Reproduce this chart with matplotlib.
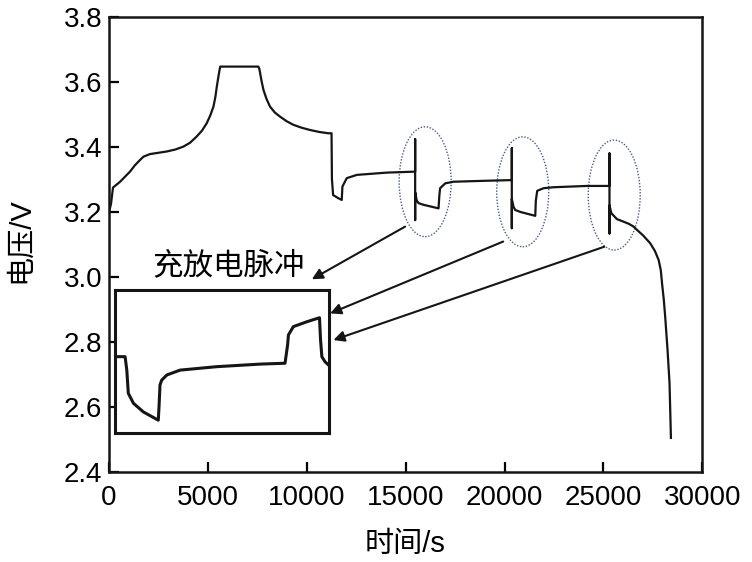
import numpy as np
import matplotlib.pyplot as plt
from matplotlib.patches import Ellipse

plt.rcParams['font.family'] = ['Liberation Sans', 'Noto Sans CJK SC', 'DejaVu Sans']

# main discharge/charge curve
t = [0, 100, 200, 560, 800, 1060, 1300, 1570, 1740, 2070, 2500, 2920, 3350, 3760,
     4100, 4430, 4700, 4940, 5120, 5280, 5380, 5450, 5540, 5620,
     7550, 7600, 7640, 7720, 7810, 7960, 8140, 8380, 8650, 8980, 9320, 9740, 10170,
     10630, 11090, 11250,
     11270, 11330, 11600, 11766, 11800, 12020, 12530, 14050, 15478,
     15478, 15478, 15478, 15560, 15650, 15900, 16660, 16700, 16740, 17000, 17420, 19100, 20365,
     20365, 20365, 20365, 20450, 20540, 20800, 21550, 21580, 21650, 21970, 22470, 24160, 25303,
     25303, 25303, 25303, 25400, 25680, 26020, 26300, 26520, 26690, 27000, 27360, 27600,
     27790, 27900, 27960, 28050, 28120, 28240, 28340, 28410]
v = [3.20, 3.225, 3.275, 3.293, 3.308, 3.324, 3.343, 3.36, 3.370, 3.378, 3.382, 3.386, 3.392, 3.401,
     3.413, 3.432, 3.450, 3.473, 3.497, 3.524, 3.555, 3.586, 3.62, 3.647,
     3.647, 3.640, 3.627, 3.600, 3.575, 3.548, 3.524, 3.506, 3.493, 3.479, 3.468, 3.459, 3.452,
     3.446, 3.442, 3.442,
     3.30, 3.252, 3.242, 3.237, 3.278, 3.304, 3.314, 3.321, 3.324,
     3.424, 3.175, 3.26, 3.235, 3.227, 3.222, 3.211, 3.25, 3.273, 3.288, 3.293, 3.296, 3.298,
     3.396, 3.150, 3.24, 3.216, 3.206, 3.200, 3.188, 3.235, 3.265, 3.273, 3.276, 3.280, 3.280,
     3.380, 3.134, 3.22, 3.196, 3.178, 3.170, 3.163, 3.155, 3.145, 3.128, 3.104, 3.080,
     3.052, 3.020, 2.981, 2.930, 2.878, 2.775, 2.673, 2.505]

# inset: zoom of one pulse (arbitrary time units)
inset_t = [8, 47, 55, 62, 86, 132, 202, 206, 210, 218, 242, 304, 475, 678, 794,
           806, 810, 833, 896, 955, 960, 966, 981, 997]
inset_v = [3.167, 3.167, 3.120, 3.039, 3.004, 2.974, 2.945, 3.00, 3.068, 3.085, 3.103,
           3.120, 3.132, 3.141, 3.144, 3.208, 3.243, 3.272, 3.289, 3.303, 3.225, 3.167,
           3.149, 3.138]

# highlighted pulses (centre t, centre V)
ell_t = [15984, 20916, 25543]
ell_v = [3.293, 3.262, 3.252]

# arrows: start on ellipse, end at inset
arr_start = [(14972, 3.155), (19929, 3.109), (25038, 3.093)]
arr_end = [(10253, 2.993), (11178, 2.888), (11346, 2.806)]

fig = plt.figure(figsize=(7.52, 5.62), dpi=100)
ax = fig.add_axes([0.145, 0.160, 0.789, 0.810])

ax.plot(t, v, color='#151515', lw=1.6)

ax.set_xlim(0, 30000)
ax.set_ylim(2.4, 3.8)
ax.set_xticks(np.arange(0, 30001, 5000))
ax.set_yticks(np.arange(2.4, 3.81, 0.2))
ax.set_yticklabels(['%.1f' % y for y in np.arange(2.4, 3.81, 0.2)])
ax.tick_params(direction='in', length=7, width=1.6, labelsize=20, pad=5)
ax.tick_params(axis='x', pad=9)
for s in ax.spines.values():
    s.set_linewidth(1.8)
    s.set_color('#151515')

ax.set_xlabel('时间/s', fontsize=21)
ax.set_ylabel('电压/V', fontsize=21)
ax.xaxis.set_label_coords(0.499, -0.128)
ax.yaxis.set_label_coords(-0.127, 0.51)

for i in range(len(ell_t)):
    e = Ellipse((ell_t[i], ell_v[i]), 2630, 0.338, fill=False, ec='#4a55a0',
                ls=(0, (1, 1.2)), lw=1.0)
    ax.add_patch(e)

for s0, s1 in zip(arr_start, arr_end):
    ax.annotate('', xy=s1, xytext=s0,
                arrowprops=dict(arrowstyle='-|>', color='#151515', lw=1.5,
                                mutation_scale=16, shrinkA=0, shrinkB=0))

ax.text(6019, 3.034, '充放电脉冲', fontsize=22, ha='center', va='center')

ins = ax.inset_axes([303, 2.52, 10825, 0.44], transform=ax.transData)
ins.plot(inset_t, inset_v, color='#151515', lw=2.2)
ins.set_xlim(0, 1000)
ins.set_ylim(2.9, 3.4)
ins.set_xticks([])
ins.set_yticks([])
for s in ins.spines.values():
    s.set_linewidth(2.2)
    s.set_color('#151515')

plt.savefig('out.png', dpi=100)
